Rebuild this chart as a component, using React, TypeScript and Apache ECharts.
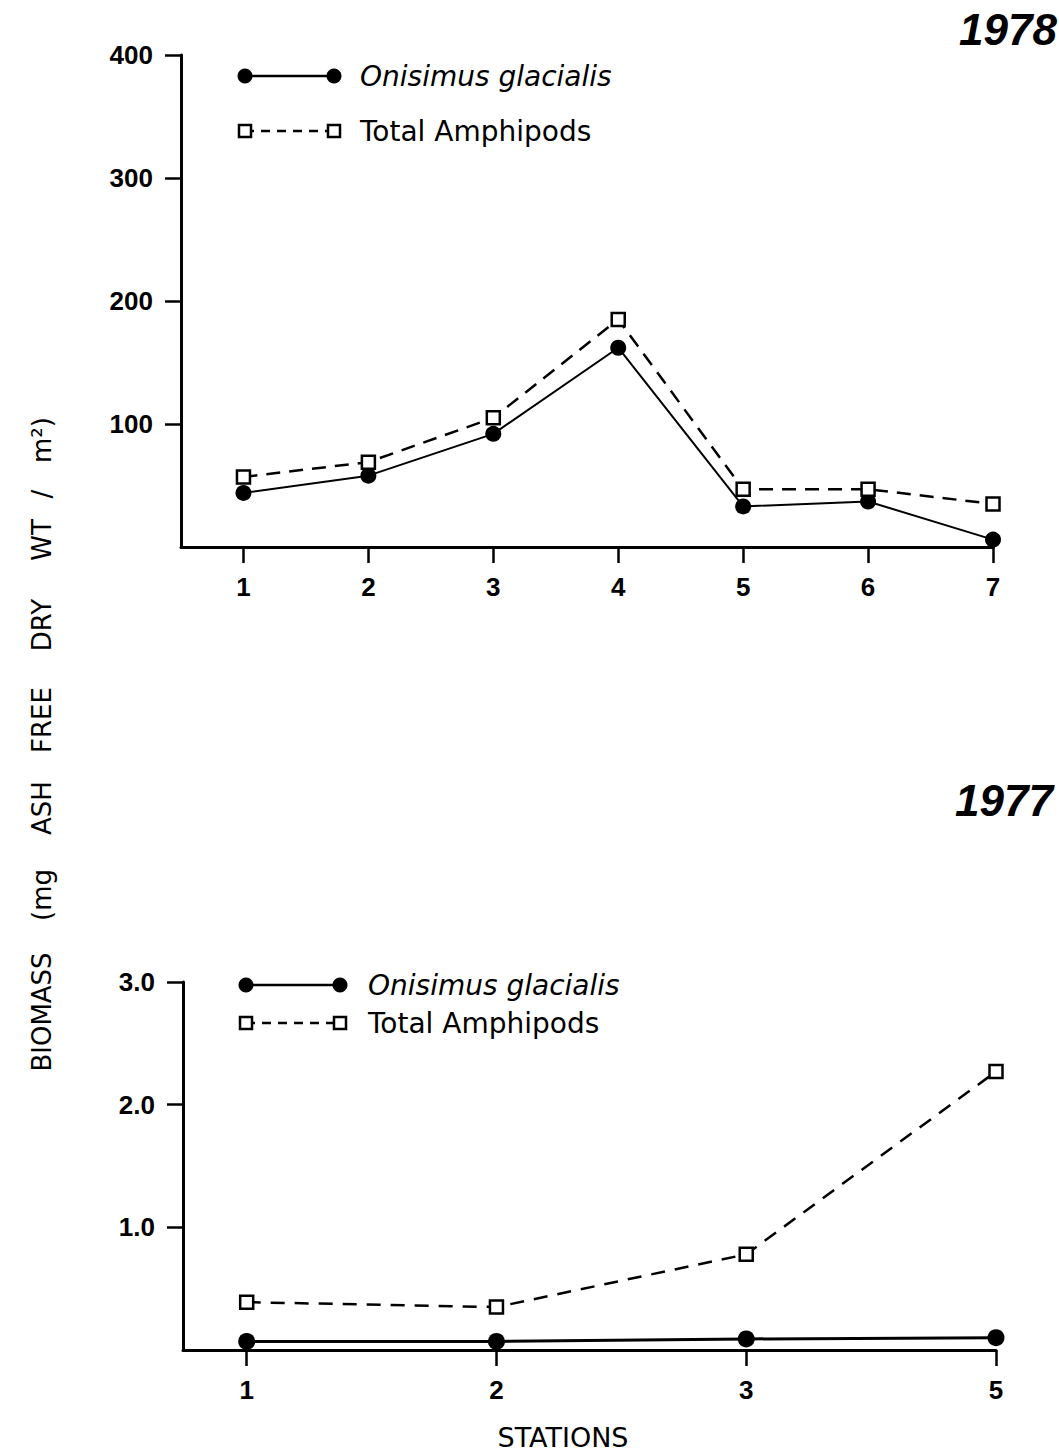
import React, { useEffect, useRef } from "react";
import * as echarts from "echarts";

// ---- Data ----
const stations1978 = [1, 2, 3, 4, 5, 6, 7];
const onisimus1978 = [44, 58, 92, 162, 33, 37, 6];
const total1978 = [57, 69, 105, 185, 47, 47, 35];

const stations1977 = ["1", "2", "3", "5"];
const onisimus1977 = [0.07, 0.07, 0.09, 0.1];
const total1977 = [0.39, 0.35, 0.78, 2.27];

const yTicks1978 = [100, 200, 300, 400];
const yTicks1977 = [1, 2, 3];

const seriesNames = ["Onisimus glacialis", "Total Amphipods"];
const yearLabels = ["1978", "1977"];
const yTitleWords = ["BIOMASS", "(mg", "ASH", "FREE", "DRY", "WT", "/", "m²)"];
const xTitle = "STATIONS";

const BLACK = "#000";
const TICK_FONT = "'Liberation Sans', Arial, sans-serif";
const TEXT_FONT = "'DejaVu Sans', sans-serif";
const YEAR_FONT = "'Liberation Sans Narrow', 'Liberation Sans', sans-serif";

function legendGraphic(y1: number, y2: number, xa: number, xb: number, tx: number) {
  return [
    { type: "line", shape: { x1: xa, y1, x2: xb, y2: y1 }, style: { stroke: BLACK, lineWidth: 2.5 } },
    { type: "circle", shape: { cx: xa, cy: y1, r: 7.5 }, style: { fill: BLACK } },
    { type: "circle", shape: { cx: xb, cy: y1, r: 7.5 }, style: { fill: BLACK } },
    {
      type: "text", x: tx, y: y1,
      style: { text: seriesNames[0], fill: BLACK, font: `italic 28px ${TEXT_FONT}`, verticalAlign: "middle", align: "left" },
    },
    { type: "line", shape: { x1: xa, y1: y2, x2: xb, y2 }, style: { stroke: BLACK, lineWidth: 2.5, lineDash: [9, 7] } },
    { type: "rect", shape: { x: xa - 6, y: y2 - 6, width: 12, height: 12 }, style: { fill: "#fff", stroke: BLACK, lineWidth: 2.5 } },
    { type: "rect", shape: { x: xb - 6, y: y2 - 6, width: 12, height: 12 }, style: { fill: "#fff", stroke: BLACK, lineWidth: 2.5 } },
    {
      type: "text", x: tx, y: y2,
      style: { text: seriesNames[1], fill: BLACK, font: `28px ${TEXT_FONT}`, verticalAlign: "middle", align: "left" },
    },
  ];
}

export default function App() {
  const ref = useRef<HTMLDivElement>(null);

  useEffect(() => {
    document.body.style.margin = "0";
    if (!ref.current) return;
    const chart = echarts.init(ref.current, null, { renderer: "svg" });

    const axisLine = { show: true, onZero: false, lineStyle: { color: BLACK, width: 3 } };
    const tickLabel = { color: BLACK, fontSize: 26, fontWeight: "bold" as const, fontFamily: TICK_FONT };

    const yTitleCenters = [1012, 895, 808, 720, 625, 540, 494, 440];
    const yTitleGraphics = yTitleWords.map((w, i) => ({
      type: "text",
      x: 42,
      y: yTitleCenters[i],
      rotation: Math.PI / 2,
      style: { text: w, fill: BLACK, font: `26px ${TEXT_FONT}`, align: "center", verticalAlign: "middle" },
    }));

    const option: any = {
      animation: false,
      backgroundColor: "#fff",
      grid: [
        { left: 181, right: 66, top: 55, height: 492 },
        { left: 183, right: 63, top: 982, height: 368 },
      ],
      xAxis: [
        {
          type: "value", gridIndex: 0, min: 0.5, max: 7,
          axisLine,
          splitLine: { show: false },
          axisTick: { show: true, customValues: stations1978, length: 16, lineStyle: { color: BLACK, width: 2.5 } },
          axisLabel: { ...tickLabel, customValues: stations1978, margin: 27, formatter: (v: number) => String(v) },
        },
        {
          type: "value", gridIndex: 1, min: 0.745, max: 4,
          axisLine,
          splitLine: { show: false },
          axisTick: { show: true, customValues: [1, 2, 3, 4], length: 16, lineStyle: { color: BLACK, width: 2.5 } },
          axisLabel: { ...tickLabel, customValues: [1, 2, 3, 4], margin: 27, formatter: (v: number) => stations1977[Math.round(v) - 1] ?? "" },
        },
      ],
      yAxis: [
        {
          type: "value", gridIndex: 0, min: 0, max: 400, interval: 100,
          axisLine,
          splitLine: { show: false },
          axisTick: { show: true, customValues: yTicks1978, length: 16, lineStyle: { color: BLACK, width: 2.5 } },
          axisLabel: { ...tickLabel, customValues: yTicks1978, margin: 28, formatter: (v: number) => String(v) },
        },
        {
          type: "value", gridIndex: 1, min: 0, max: 3, interval: 1,
          axisLine,
          splitLine: { show: false },
          axisTick: { show: true, customValues: yTicks1977, length: 16, lineStyle: { color: BLACK, width: 2.5 } },
          axisLabel: { ...tickLabel, customValues: yTicks1977, margin: 28, formatter: (v: number) => v.toFixed(1) },
        },
      ],
      series: [
        {
          name: seriesNames[0], type: "line", xAxisIndex: 0, yAxisIndex: 0,
          data: stations1978.map((s, i) => [s, onisimus1978[i]]),
          symbol: "circle", symbolSize: 16,
          itemStyle: { color: BLACK },
          lineStyle: { color: BLACK, width: 2 },
          z: 3,
        },
        {
          name: seriesNames[1], type: "line", xAxisIndex: 0, yAxisIndex: 0,
          data: stations1978.map((s, i) => [s, total1978[i]]),
          symbol: "rect", symbolSize: 13,
          itemStyle: { color: "#fff", borderColor: BLACK, borderWidth: 2.5 },
          lineStyle: { color: BLACK, width: 2.5, type: [14, 9] },
          z: 4,
        },
        {
          name: seriesNames[0], type: "line", xAxisIndex: 1, yAxisIndex: 1,
          data: stations1977.map((s, i) => [i + 1, onisimus1977[i]]),
          symbol: "circle", symbolSize: 17,
          itemStyle: { color: BLACK },
          lineStyle: { color: BLACK, width: 3 },
          z: 3,
        },
        {
          name: seriesNames[1], type: "line", xAxisIndex: 1, yAxisIndex: 1,
          data: stations1977.map((s, i) => [i + 1, total1977[i]]),
          symbol: "rect", symbolSize: 13,
          itemStyle: { color: "#fff", borderColor: BLACK, borderWidth: 2.5 },
          lineStyle: { color: BLACK, width: 2.5, type: [14, 10] },
          z: 4,
        },
      ],
      graphic: [
        ...legendGraphic(76, 131, 245, 334, 360),
        ...legendGraphic(985, 1023, 246, 340, 368),
        {
          type: "text", x: 1057, y: 29,
          style: { text: yearLabels[0], fill: BLACK, font: `italic bold 44px ${YEAR_FONT}`, align: "right", verticalAlign: "middle" },
        },
        {
          type: "text", x: 1053, y: 800,
          style: { text: yearLabels[1], fill: BLACK, font: `italic bold 44px ${YEAR_FONT}`, align: "right", verticalAlign: "middle" },
        },
        {
          type: "text", x: 563, y: 1437,
          style: { text: xTitle, fill: BLACK, font: `27px ${TEXT_FONT}`, align: "center", verticalAlign: "middle" },
        },
        ...yTitleGraphics,
      ],
    };

    chart.setOption(option);
    return () => chart.dispose();
  }, []);

  return <div ref={ref} style={{ width: 1059, height: 1451 }} />;
}
